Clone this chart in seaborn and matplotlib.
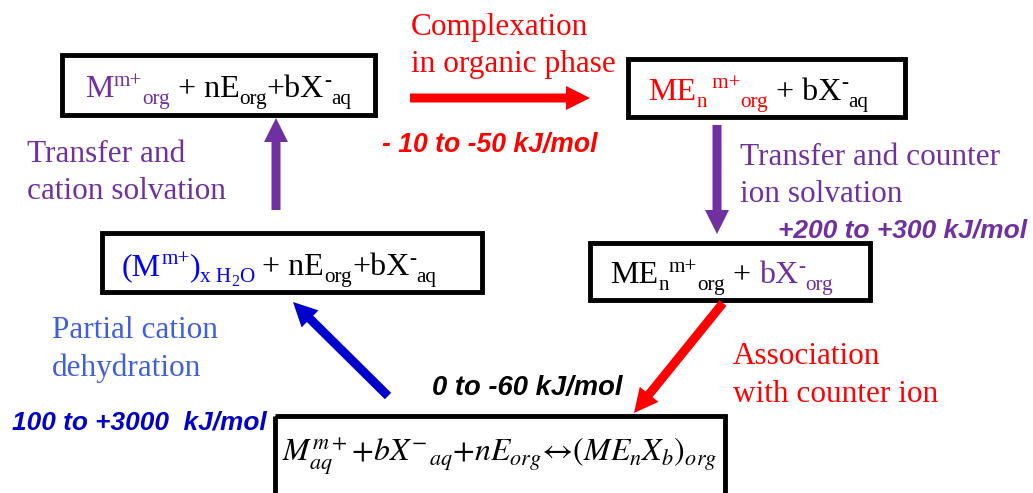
import matplotlib
matplotlib.use("Agg")
import matplotlib.pyplot as plt
from matplotlib.patches import Rectangle
import seaborn as sns

sns.set_theme(style="white")
plt.rcParams['font.family'] = ['Liberation Serif', 'DejaVu Sans']
plt.rcParams['mathtext.fontset'] = 'stix'

# ---- content ----
step_labels = [
    ["Complexation", "in organic phase"],
    ["Transfer and counter", "ion solvation"],
    ["Association", "with counter ion"],
    ["Partial cation", "dehydration"],
    ["Transfer and", "cation solvation"],
]
energy_labels = [
    "- 10 to -50 kJ/mol",
    "+200 to +300 kJ/mol",
    "0 to -60 kJ/mol",
    "100 to +3000  kJ/mol",
]
equation = (r"$M_{aq}^{m+}{+}bX^{-}{}_{aq}{+}nE_{org}"
            r"\!\leftrightarrow\!\left(ME_{n}X_{b}\right)_{org}$")

PURPLE = "#7030A0"
RED = "#FF0000"
BLUE = "#0000FF"
LBLUE = "#3F5FE0"
DBLUE = "#0000C8"
BLACK = "#000000"

species = [
    [("M", PURPLE, "n"), ("m+", PURPLE, "sup"), ("org", PURPLE, "sub"),
     (" + nE", BLACK, "n"), ("org", BLACK, "sub"), ("+bX", BLACK, "n"),
     ("-", BLACK, "sup"), ("aq", BLACK, "sub")],
    [("ME", RED, "n"), ("n", RED, "sub"), (" m+", RED, "sup"), ("org", RED, "sub"),
     (" + bX", BLACK, "n"), ("-", BLACK, "sup"), ("aq", BLACK, "sub")],
    [("(M", BLUE, "n"), ("m+", BLUE, "sup"), (")", BLUE, "n"), ("x H", BLUE, "sub"),
     ("2", BLUE, "subsub"), ("O", BLUE, "sub"), (" + nE", BLACK, "n"),
     ("org", BLACK, "sub"), ("+bX", BLACK, "n"), ("-", BLACK, "sup"), ("aq", BLACK, "sub")],
    [("ME", BLACK, "n"), ("n", BLACK, "sub"), ("m+", BLACK, "sup"), ("org", BLACK, "sub"),
     (" + ", BLACK, "n"), ("bX", PURPLE, "n"), ("-", PURPLE, "sup"), ("org", PURPLE, "sub")],
]

W, H = 1033, 493
fig = plt.figure(figsize=(W / 100, H / 100), dpi=100)
ax = fig.add_axes([0, 0, 1, 1])
ax.set_xlim(0, W)
ax.set_ylim(H, 0)
ax.axis("off")
fig.canvas.draw()
renderer = fig.canvas.get_renderer()


def rich(x, y, pieces, size):
    px = size * 100 / 72
    cx = x
    for txt, col, kind in pieces:
        fs, dy = size, 0.0
        if kind == "sub":
            fs, dy = size * 0.66, px * 0.22
        elif kind == "sup":
            fs, dy = size * 0.66, -px * 0.36
        elif kind == "subsub":
            fs, dy = size * 0.5, px * 0.36
        t = ax.text(cx, y + dy, txt, fontsize=fs, color=col, va="baseline",
                    ha="left", family="Liberation Serif")
        bb = t.get_window_extent(renderer)
        cx += bb.width


def fit_text(x0, x1, y, s, size, **kw):
    t = ax.text(x0, y, s, fontsize=size, va="baseline", ha="left", **kw)
    w = t.get_window_extent(renderer).width
    t.set_fontsize(size * (x1 - x0) / w)
    return t


def box(x0, y0, x1, y1):
    ax.add_patch(Rectangle((x0, y0), x1 - x0, y1 - y0, fill=False,
                           edgecolor="black", lw=3.5, clip_on=False))


# boxes
box(62, 55, 375, 115)
box(628, 59, 905, 117)
box(102, 233, 482, 292)
box(590, 243, 870, 300)
box(275, 416, 725, 500)

BOX_FS = 23
rich(85, 97, species[0], BOX_FS)
rich(648, 100, species[1], BOX_FS)
rich(122, 275, species[2], BOX_FS)
rich(610, 283, species[3], BOX_FS)

fit_text(282, 716, 462, equation, 30, color="black")

# arrows
def arrow(x0, y0, x1, y1, col):
    ax.arrow(x0, y0, x1 - x0, y1 - y0, width=9, head_width=24, head_length=24,
             length_includes_head=True, color=col, lw=0)

arrow(410, 98, 590, 98, RED)
arrow(717, 125, 717, 234, PURPLE)
arrow(723, 303, 634, 413, RED)
arrow(388, 396, 293, 302, "#0000CC")
arrow(276, 210, 276, 118, PURPLE)

# step labels
SFS = 22.5
def two_lines(x, y0, y1, lines, col):
    ax.text(x, y0, lines[0], fontsize=SFS, color=col, va="baseline", ha="left")
    ax.text(x, y1, lines[1], fontsize=SFS, color=col, va="baseline", ha="left")

two_lines(411, 35, 72, step_labels[0], RED)
two_lines(740, 165, 202, step_labels[1], PURPLE)
two_lines(733, 364, 402, step_labels[2], RED)
two_lines(52, 338, 376, step_labels[3], LBLUE)
two_lines(27, 162, 199, step_labels[4], PURPLE)

# energies
ekw = dict(fontweight="bold", fontstyle="italic", family="Liberation Sans")
fit_text(382, 597, 152, energy_labels[0], 19, color=RED, **ekw)
fit_text(778, 1027, 238, energy_labels[1], 19, color=PURPLE, **ekw)
fit_text(432, 622, 395, energy_labels[2], 19, color=BLACK, **ekw)
fit_text(12, 267, 429, energy_labels[3], 19, color=DBLUE, **ekw)

fig.savefig("out.png", dpi=100, facecolor="white")
